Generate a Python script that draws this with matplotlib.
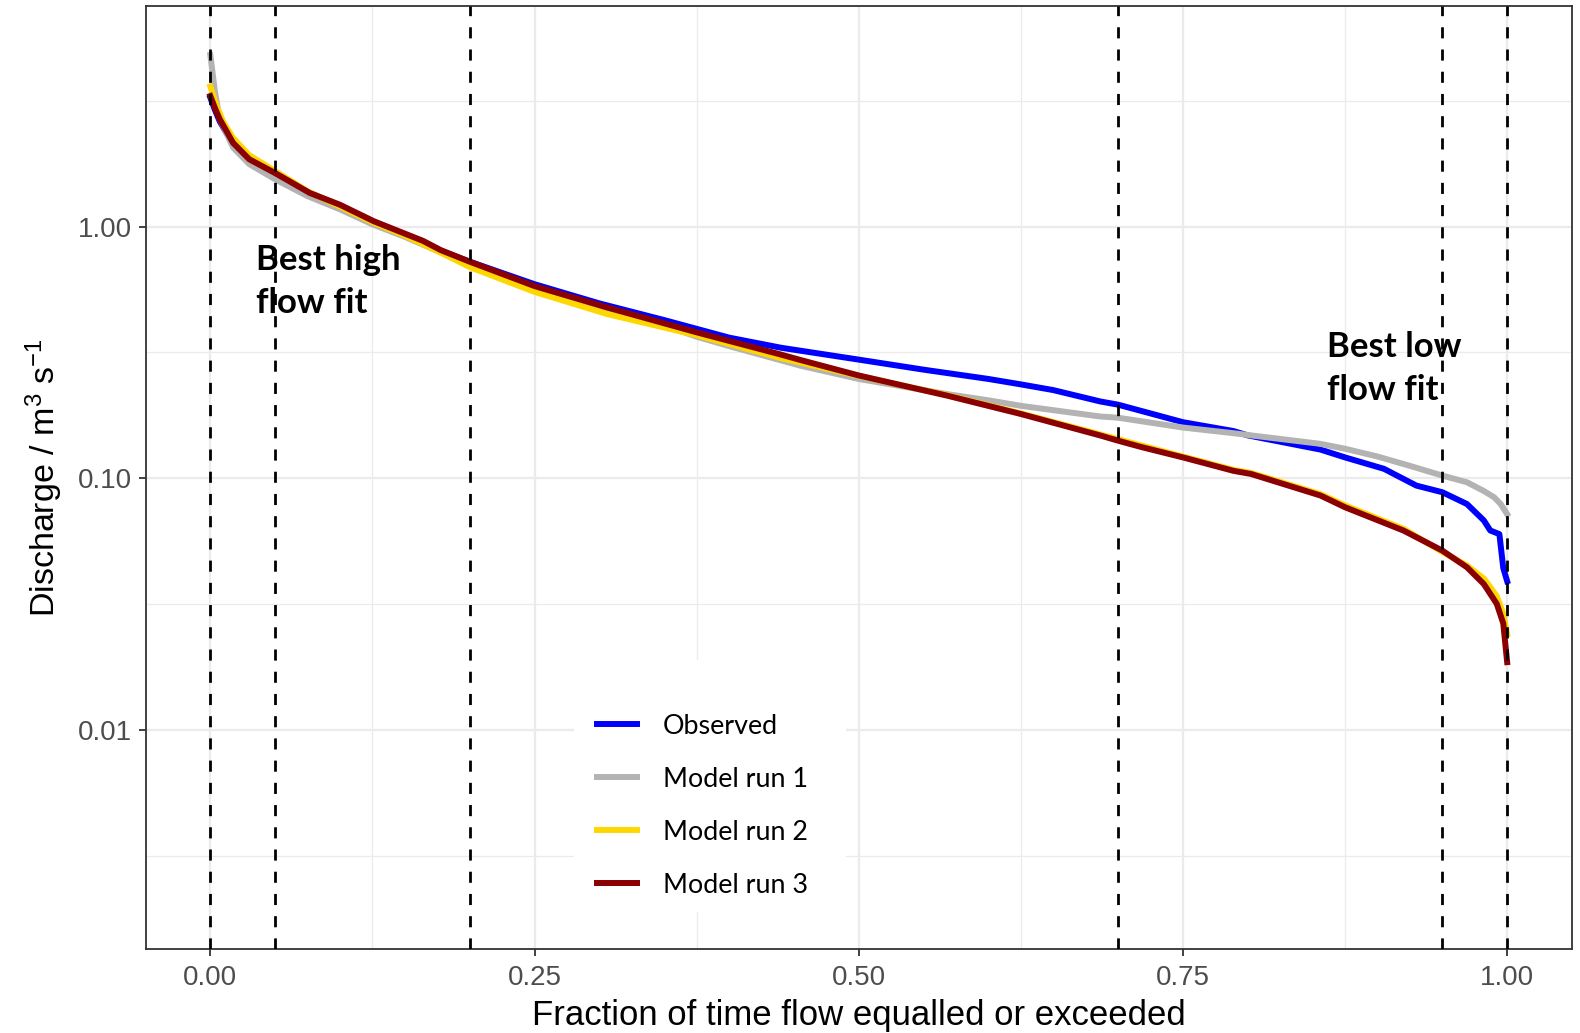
import numpy as np
import matplotlib
matplotlib.use("Agg")
import matplotlib.pyplot as plt
from matplotlib.ticker import FixedLocator, FixedFormatter
from matplotlib.patches import Rectangle

# flow duration curves (fraction exceeded, discharge m3/s)
obs_x = [0.0, 0.0036, 0.0072, 0.0175, 0.03, 0.05, 0.0766, 0.1, 0.126, 0.164, 0.1777, 0.2,
         0.25, 0.3, 0.35, 0.4, 0.44, 0.5, 0.55, 0.6, 0.625, 0.65, 0.686, 0.7,
         0.75, 0.789, 0.8, 0.856, 0.875, 0.905, 0.93, 0.95, 0.969, 0.982,
         0.987, 0.994, 0.997, 1.0]
obs_q = [3.25, 2.9, 2.62, 2.12, 1.83, 1.61, 1.35, 1.21, 1.04, 0.87, 0.80, 0.725,
         0.59, 0.495, 0.425, 0.362, 0.33, 0.296, 0.27, 0.248, 0.236, 0.224, 0.202, 0.196,
         0.167, 0.154, 0.148, 0.130, 0.121, 0.109, 0.0935, 0.088, 0.079, 0.068,
         0.062, 0.060, 0.044, 0.039]

run1_x = [0.0, 0.0035, 0.007, 0.0175, 0.03, 0.05, 0.075, 0.1, 0.125, 0.15, 0.175, 0.2,
          0.25, 0.3, 0.35, 0.375, 0.4, 0.455, 0.5, 0.568, 0.6, 0.625, 0.686, 0.7,
          0.75, 0.789, 0.8025, 0.856, 0.875, 0.9, 0.925, 0.95, 0.969, 0.982,
          0.99, 0.995, 1.0]
run1_q = [4.8, 3.45, 2.7, 2.06, 1.77, 1.54, 1.32, 1.17, 1.02, 0.91, 0.8, 0.71,
          0.57, 0.472, 0.405, 0.365, 0.335, 0.28, 0.248, 0.216, 0.204, 0.194, 0.176, 0.174,
          0.159, 0.151, 0.148, 0.137, 0.131, 0.122, 0.112, 0.1025, 0.0964, 0.089,
          0.084, 0.079, 0.072]

run2_x = [0.0, 0.005, 0.01, 0.0175, 0.03, 0.05, 0.075, 0.1, 0.125, 0.15, 0.175, 0.2,
          0.25, 0.306, 0.375, 0.44, 0.5, 0.568, 0.625, 0.7, 0.75, 0.789, 0.8025,
          0.856, 0.875, 0.92, 0.95, 0.969, 0.982, 0.992, 0.997, 1.0]
run2_q = [3.6, 3.0, 2.6, 2.25, 1.92, 1.66, 1.38, 1.2, 1.04, 0.92, 0.8, 0.69,
          0.55, 0.449, 0.37, 0.3, 0.255, 0.214, 0.181, 0.143, 0.122, 0.108, 0.105,
          0.0865, 0.078, 0.063, 0.051, 0.045, 0.040, 0.034, 0.029, 0.024]

run3_x = [0.0, 0.0036, 0.0072, 0.0175, 0.03, 0.05, 0.0766, 0.1, 0.126, 0.164, 0.1777, 0.2,
          0.25, 0.306, 0.375, 0.44, 0.455, 0.5, 0.568, 0.625, 0.686, 0.7, 0.718,
          0.75, 0.789, 0.8025, 0.856, 0.875, 0.92, 0.95, 0.969, 0.982, 0.992,
          0.997, 1.0]
run3_q = [3.3, 2.95, 2.67, 2.15, 1.85, 1.63, 1.36, 1.22, 1.05, 0.877, 0.806, 0.725,
          0.58, 0.477, 0.38, 0.31, 0.295, 0.256, 0.213, 0.18, 0.148, 0.141, 0.133,
          0.121, 0.107, 0.104, 0.0854, 0.0767, 0.062, 0.0516, 0.0443, 0.038, 0.0317,
          0.0265, 0.0186]

series = [
    ("Observed", obs_x, obs_q, "#0000FF"),
    ("Model run 1", run1_x, run1_q, "#B3B3B3"),
    ("Model run 2", run2_x, run2_q, "#FFD700"),
    ("Model run 3", run3_x, run3_q, "#8B0000"),
]

cutoffs = [0.0, 0.05, 0.2, 0.7, 0.95, 1.0]

x_major = [0.0, 0.25, 0.5, 0.75, 1.0]
x_labels = ["0.00", "0.25", "0.50", "0.75", "1.00"]
x_minor = [0.125, 0.375, 0.625, 0.875]
y_major = [0.01, 0.1, 1.0]
y_labels = ["0.01", "0.10", "1.00"]
y_minor = [10**-2.5, 10**-1.5, 10**-0.5, 10**0.5]

plt.rcParams["font.family"] = ["Liberation Sans", "DejaVu Sans"]
plt.rcParams["mathtext.default"] = "regular"

fig = plt.figure(figsize=(15.8, 10.33), dpi=100)
ax = fig.add_axes([145.5 / 1580, 1 - 948.5 / 1033, 1426.5 / 1580, 942.5 / 1033])

ax.set_yscale("log")
ax.set_xlim(-0.05, 1.05)
ax.set_ylim(10**-2.868, 10**0.876)

ax.xaxis.set_major_locator(FixedLocator(x_major))
ax.xaxis.set_major_formatter(FixedFormatter(x_labels))
ax.xaxis.set_minor_locator(FixedLocator(x_minor))
ax.yaxis.set_major_locator(FixedLocator(y_major))
ax.yaxis.set_major_formatter(FixedFormatter(y_labels))
ax.yaxis.set_minor_locator(FixedLocator(y_minor))
ax.yaxis.set_minor_formatter(FixedFormatter([""] * len(y_minor)))

ax.grid(which="major", color="#EBEBEB", lw=1.6, zorder=0)
ax.grid(which="minor", color="#EBEBEB", lw=0.9, zorder=0)
ax.set_axisbelow(True)

ax.tick_params(which="major", length=5, width=1.3, color="#333333",
               labelsize=20, labelcolor="#4D4D4D", pad=5)
ax.tick_params(axis="x", which="major", pad=7)
ax.tick_params(which="minor", length=0)
for sp in ax.spines.values():
    sp.set_color("#333333")
    sp.set_linewidth(1.3)

# white legend background hides the grid
ax.add_patch(Rectangle((0.3004, 0.0387), 0.1906, 0.2673, transform=ax.transAxes,
                       facecolor="white", edgecolor="none", zorder=1))

handles = []
for name, xs, qs, col in series:
    h, = ax.plot(xs, qs, color=col, lw=4.3, label=name, zorder=3)
    handles.append(h)

for c in cutoffs:
    ax.axvline(c, color="black", lw=2.0, linestyle=(0, (4, 4)), zorder=4)

ax.text(0.035, 0.603, "Best high\nflow fit", fontsize=25, fontweight="bold",
        family="Lato", ha="left", va="center", linespacing=1.42, zorder=5)
ax.text(0.861, 0.272, "Best low\nflow fit", fontsize=25, fontweight="bold",
        family="Lato", ha="left", va="center", linespacing=1.42, zorder=5)

leg = ax.legend(handles=handles, loc="center left", bbox_to_anchor=(0.3165, 0.1515),
                frameon=False, borderpad=0, borderaxespad=0,
                handlelength=1.5, handletextpad=0.95, labelspacing=1.04,
                prop={"family": "Lato", "size": 19.4})
for t in leg.get_texts():
    t.set_color("black")

ax.set_xlabel("Fraction of time flow equalled or exceeded", fontsize=25, color="black")
ax.set_ylabel("Discharge / m$^3$ s$^{-1}$", fontsize=24.5, color="black")
ax.xaxis.set_label_coords(0.5, -0.0716)
ax.yaxis.set_label_coords(-0.0712, 0.5)
ax.xaxis.label.set_va("center")
ax.yaxis.label.set_va("center")

fig.savefig("out.png", dpi=100)
